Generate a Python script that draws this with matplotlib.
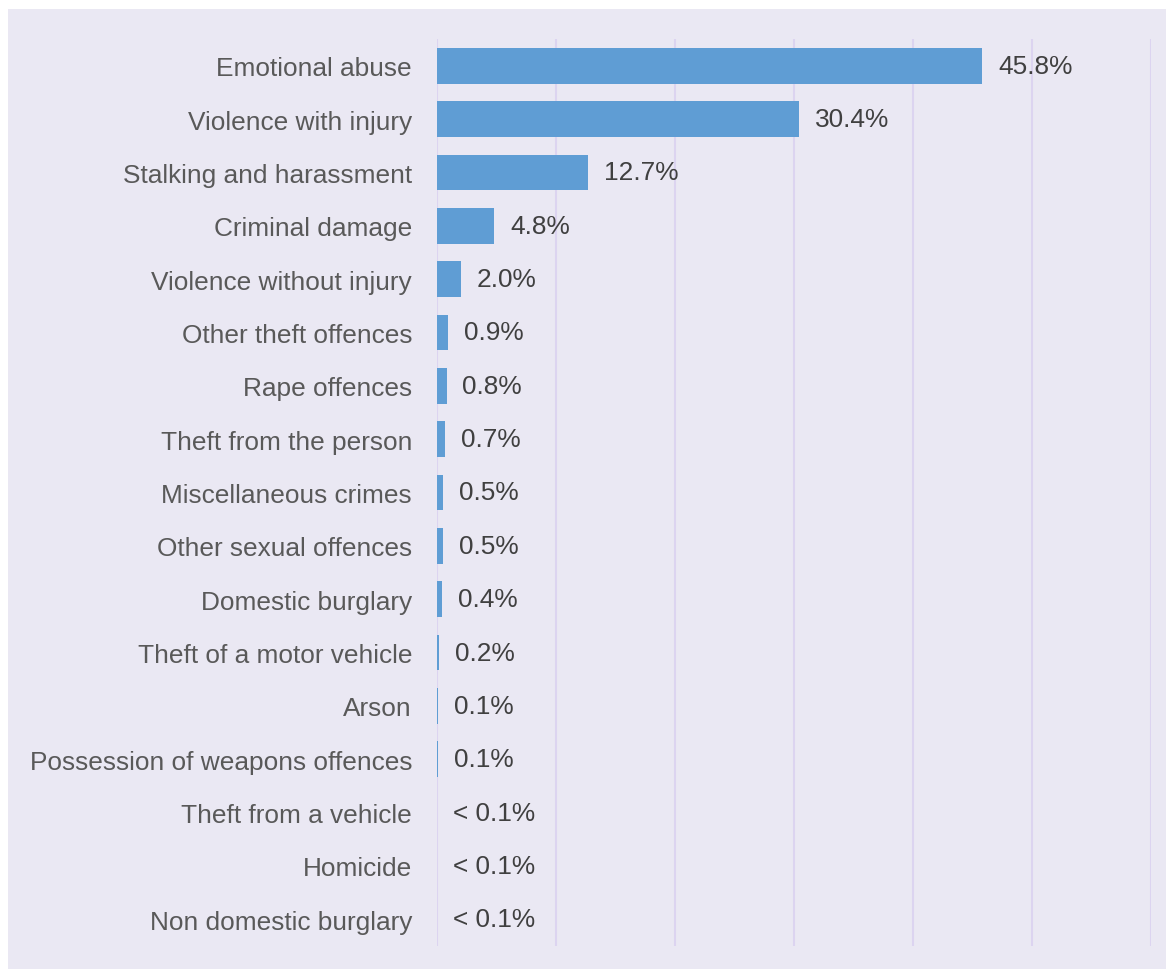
import matplotlib.pyplot as plt
from matplotlib.patches import Rectangle

# ==========================
# Data
# ==========================
categories = [
    "Emotional abuse",
    "Violence with injury",
    "Stalking and harassment",
    "Criminal damage",
    "Violence without injury",
    "Other theft offences",
    "Rape offences",
    "Theft from the person",
    "Miscellaneous crimes",
    "Other sexual offences",
    "Domestic burglary",
    "Theft of a motor vehicle",
    "Arson",
    "Possession of weapons offences",
    "Theft from a vehicle",
    "Homicide",
    "Non domestic burglary",
]
values = [45.8, 30.4, 12.7, 4.8, 2.0, 0.9, 0.8, 0.7, 0.5, 0.5, 0.4, 0.2, 0.1, 0.1, 0.0, 0.0, 0.0]
value_labels = ["45.8%", "30.4%", "12.7%", "4.8%", "2.0%", "0.9%", "0.8%", "0.7%", "0.5%",
                "0.5%", "0.4%", "0.2%", "0.1%", "0.1%", "< 0.1%", "< 0.1%", "< 0.1%"]
x_ticks = [0, 10, 20, 30, 40, 50, 60]

# ==========================
# Figure
# ==========================
W, H = 1166, 970
fig = plt.figure(figsize=(W / 100, H / 100), dpi=100, facecolor="white")

bg = "#EAE8F3"
fig.patches.append(Rectangle((8 / W, 0), 1 - 8 / W, (H - 10) / H,
                             transform=fig.transFigure, facecolor=bg,
                             edgecolor="none", zorder=-10))

ax = fig.add_axes([437 / W, 1 - 947 / H, (1151 - 437) / W, (947 - 40) / H])
ax.set_facecolor(bg)

ypos = list(range(len(categories)))
ax.barh(ypos, values, height=0.67, color="#5F9DD4", zorder=3)

ax.set_xlim(0, 60)
ax.set_ylim(len(categories) - 0.5, -0.5)
ax.set_xticks(x_ticks)
ax.xaxis.grid(True, color="#DCD4F0", linewidth=1.5, zorder=1)
ax.set_axisbelow(True)
ax.tick_params(axis="x", bottom=False, labelbottom=False)
ax.tick_params(axis="y", length=0, pad=18)
for s in ax.spines.values():
    s.set_visible(False)

ax.set_yticks(ypos)
ax.set_yticklabels(categories, fontsize=18.9, color="#595959",
                   family=["Liberation Sans", "DejaVu Sans"])

for y, v, lab in zip(ypos, values, value_labels):
    ax.annotate(lab, (v, y), xytext=(11.5, 0), textcoords="offset points",
                ha="left", va="center", fontsize=18.9, color="#404040",
                family=["Liberation Sans Narrow", "Liberation Sans", "DejaVu Sans"],
                zorder=4)

fig.savefig("out.png", dpi=100, facecolor=fig.get_facecolor())
